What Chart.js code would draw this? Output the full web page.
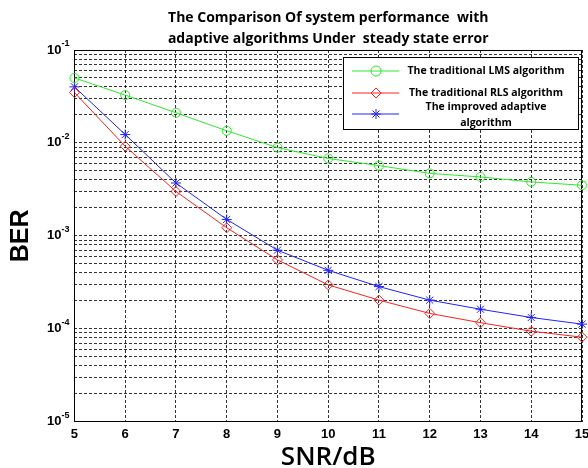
<!DOCTYPE html>
<html>
<head>
<meta charset="utf-8">
<script src="https://cdn.jsdelivr.net/npm/chart.js@4.4.1/dist/chart.umd.min.js"></script>
<style>
  html, body { margin: 0; padding: 0; background: #fff; }
  #wrap { width: 588px; height: 468px; }
</style>
</head>
<body>
<div id="wrap"><canvas id="ber-chart"></canvas></div>
<script>
const snr = [5, 6, 7, 8, 9, 10, 11, 12, 13, 14, 15];
const lmsBer = [0.050, 0.0327, 0.0211, 0.0135, 0.0089, 0.0068, 0.0057, 0.0047, 0.0043, 0.0038, 0.0035];
const rlsBer = [0.0348, 0.0092, 0.0030, 0.00122, 0.00055, 0.000296, 0.000203, 0.000146, 0.000116, 0.000094, 0.000081];
const improvedBer = [0.0401, 0.0123, 0.0037, 0.0015, 0.0007, 0.000425, 0.000284, 0.000203, 0.000162, 0.000132, 0.000112];
const seriesNames = [['The traditional LMS algorithm'], ['The traditional RLS algorithm'], ['The improved adaptive', 'algorithm']];
const decades = [-5, -4, -3, -2, -1];
const minorSteps = [1, 2, 3, 4, 5, 6, 7, 8, 9];
const titleLines = ['The Comparison Of system performance  with', 'adaptive algorithms Under  steady state error'];

// every log grid line: 1..9 x 10^n, plus the top 10^-1
const berTicks = [];
decades.slice(0, -1).forEach(e => minorSteps.forEach(k => berTicks.push(+(k * Math.pow(10, e)).toPrecision(3))));
berTicks.push(0.1);

const colors = ['#2ee82e', '#ff2222', '#2222ff'];
const markers = ['circle', 'rectRot', 'star'];

const isDecade = v => {
  const e = Math.log10(v);
  return Math.abs(e - Math.round(e)) < 1e-6;
};

function drawMarker(ctx, style, x, y, r) {
  ctx.beginPath();
  if (style === 'circle') {
    ctx.arc(x, y, r, 0, Math.PI * 2);
  } else if (style === 'rectRot') {
    ctx.moveTo(x, y - r); ctx.lineTo(x + r, y); ctx.lineTo(x, y + r); ctx.lineTo(x - r, y); ctx.closePath();
  } else {
    const d = r * 0.707;
    ctx.moveTo(x - r, y); ctx.lineTo(x + r, y);
    ctx.moveTo(x, y - r); ctx.lineTo(x, y + r);
    ctx.moveTo(x - d, y - d); ctx.lineTo(x + d, y + d);
    ctx.moveTo(x - d, y + d); ctx.lineTo(x + d, y - d);
  }
  ctx.stroke();
}

const framePlugin = {
  id: 'frame',
  beforeDatasetsDraw(chart) {
    const {ctx, chartArea: a} = chart;
    ctx.save();
    ctx.strokeStyle = '#000';
    ctx.lineWidth = 1;
    ctx.setLineDash([]);
    ctx.strokeRect(Math.round(a.left) + 0.5, Math.round(a.top) + 0.5, Math.round(a.width) - 1, Math.round(a.height) - 1);
    ctx.restore();
  },
  afterDatasetsDraw(chart) {
    const {ctx, chartArea: a} = chart;
    const bx = a.right - 239, by = a.top + 7, bw = 235, bh = 72;
    ctx.save();
    ctx.fillStyle = '#fff';
    ctx.fillRect(bx, by, bw, bh);
    ctx.strokeStyle = '#000';
    ctx.lineWidth = 1;
    ctx.strokeRect(bx + 0.5, by + 0.5, bw, bh);
    const rowY = [14, 36, 57];
    chart.data.datasets.forEach((ds, i) => {
      const y = by + rowY[i];
      ctx.strokeStyle = ds.borderColor;
      ctx.lineWidth = 1;
      ctx.beginPath();
      ctx.moveTo(bx + 9, y); ctx.lineTo(bx + 56, y);
      ctx.stroke();
      drawMarker(ctx, markers[i], bx + 33, y, 5);
      ctx.fillStyle = '#000';
      ctx.font = 'bold 10.5px "Open Sans"';
      ctx.textAlign = 'center';
      ctx.textBaseline = 'middle';
      const lines = seriesNames[i];
      const ty = lines.length > 1 ? by + 50 : y;
      lines.forEach((t, j) => ctx.fillText(t, bx + 143, ty + j * 16));
    });
    ctx.restore();
  },
  afterDraw(chart) {
    // exponents of the 10^n tick labels
    const {ctx} = chart;
    const ys = chart.scales.y;
    ctx.save();
    ctx.fillStyle = '#000';
    ctx.font = 'bold 9px "Liberation Sans"';
    ctx.textAlign = 'left';
    ctx.textBaseline = 'middle';
    ys.ticks.forEach(t => {
      if (!isDecade(t.value)) return;
      const y = ys.getPixelForValue(t.value);
      ctx.fillText(String(Math.round(Math.log10(t.value))), ys.right - 13, y - 6);
    });
    ctx.restore();
  }
};

const datasets = [lmsBer, rlsBer, improvedBer].map((vals, i) => ({
  label: seriesNames[i].join(' '),
  data: vals,
  borderColor: colors[i],
  backgroundColor: 'rgba(0,0,0,0)',
  borderWidth: 1,
  pointStyle: markers[i],
  pointRadius: i === 0 ? 4.5 : 5,
  pointBorderColor: colors[i],
  pointBorderWidth: 1,
  pointBackgroundColor: 'rgba(0,0,0,0)',
  tension: 0
}));

new Chart(document.getElementById('ber-chart'), {
  type: 'line',
  data: { labels: snr, datasets: datasets },
  plugins: [framePlugin],
  options: {
    responsive: true,
    maintainAspectRatio: false,
    animation: false,
    layout: { padding: { left: 0, right: 4, top: 0, bottom: 0 } },
    plugins: {
      legend: { display: false },
      tooltip: { enabled: false },
      title: {
        display: true,
        text: titleLines,
        fullSize: false,
        color: '#000',
        font: { family: 'Open Sans', size: 14, weight: 'bold', lineHeight: '21.5px' },
        padding: { top: 7, bottom: 0 }
      }
    },
    scales: {
      x: {
        type: 'category',
        offset: false,
        afterFit: s => { s.paddingRight = 0; },
        border: { display: false, dash: [3, 2] },
        grid: { color: 'rgba(0,0,0,0.8)', lineWidth: 1, drawTicks: false },
        ticks: {
          color: '#000', padding: 5, autoSkip: false, maxRotation: 0,
          font: { family: 'Liberation Sans', size: 13, weight: 'bold' }
        },
        title: {
          display: true, text: 'SNR/dB', color: '#000',
          font: { family: 'Open Sans', size: 26, weight: '600', lineHeight: 0.8 },
          padding: { top: 0, bottom: 0 }
        }
      },
      y: {
        type: 'logarithmic',
        min: 1e-5,
        max: 1e-1,
        afterBuildTicks: s => { s.ticks = berTicks.map(v => ({ value: v })); },
        border: { display: false, dash: [3, 2] },
        grid: { color: 'rgba(0,0,0,0.8)', lineWidth: 1, drawTicks: false },
        ticks: {
          color: '#000', padding: 13, autoSkip: false,
          font: { family: 'Liberation Sans', size: 13, weight: 'bold' },
          callback: v => isDecade(v) ? '10' : ''
        },
        title: {
          display: true, text: 'BER', color: '#000',
          font: { family: 'Liberation Sans', size: 25, weight: 'bold', lineHeight: 1.0 },
          padding: { top: 9, bottom: 0 }
        }
      }
    }
  }
});
</script>
</body>
</html>
